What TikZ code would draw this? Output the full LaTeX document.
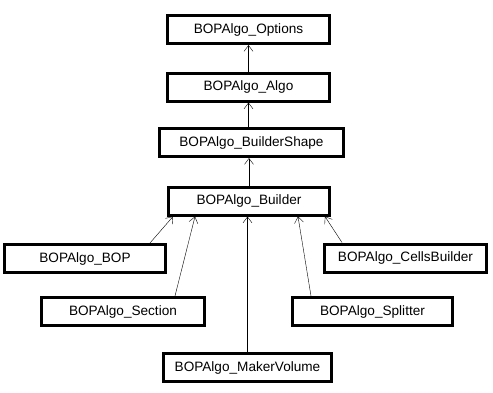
\documentclass[tikz,border=0pt]{standalone}
\usepackage{fontspec}
\setmainfont{Liberation Sans}
\usetikzlibrary{arrows.meta}

\begin{document}
\begin{tikzpicture}[x=1pt, y=-1pt, every node/.style={font=\fontsize{13.6}{15}\selectfont}, >={Straight Barb[length=6pt, width=9pt]}, cls/.style={draw, line width=3pt, minimum height=28pt, inner sep=2pt}]
	\useasboundingbox (0,0) rectangle (493,392);
	\node[cls, minimum width=162pt] (opts) at (248.5,29.5) {BOPAlgo\_Options};
	\node[cls, minimum width=162pt] (algo) at (248.5,87) {BOPAlgo\_Algo};
	\node[cls, minimum width=184pt] (bshape) at (251.5,142.5) {BOPAlgo\_BuilderShape};
	\node[cls, minimum width=161pt] (builder) at (249,201) {BOPAlgo\_Builder};
	\node[cls, minimum width=161pt] (bop) at (85,258.5) {BOPAlgo\_BOP};
	\node[cls, minimum width=163pt] (section) at (123,311.5) {BOPAlgo\_Section};
	\node[cls, minimum width=168pt] (maker) at (247.5,367.5) {BOPAlgo\_MakerVolume};
	\node[cls, minimum width=162pt] (cells) at (405.5,258) {BOPAlgo\_CellsBuilder};
	\node[cls, minimum width=160pt] (split) at (372.5,311.5) {BOPAlgo\_Splitter};
	\draw[->] (algo) -- (opts);
	\draw[->] (bshape.north -| algo) -- (algo);
	\draw[->] (builder) -- (builder |- bshape.south);
	\draw[->] ([xshift=65pt]bop.north) -- ([xshift=-76pt]builder.south);
	\draw[->] ([xshift=52pt]section.north) -- ([xshift=-54pt]builder.south);
	\draw[->] (maker.north) -- (maker.north |- builder.south);
	\draw[->] ([xshift=-61.5pt]split.north) -- ([xshift=49pt]builder.south);
	\draw[->] ([xshift=-63.5pt]cells.north) -- ([xshift=76pt]builder.south);
\end{tikzpicture}
\end{document}
